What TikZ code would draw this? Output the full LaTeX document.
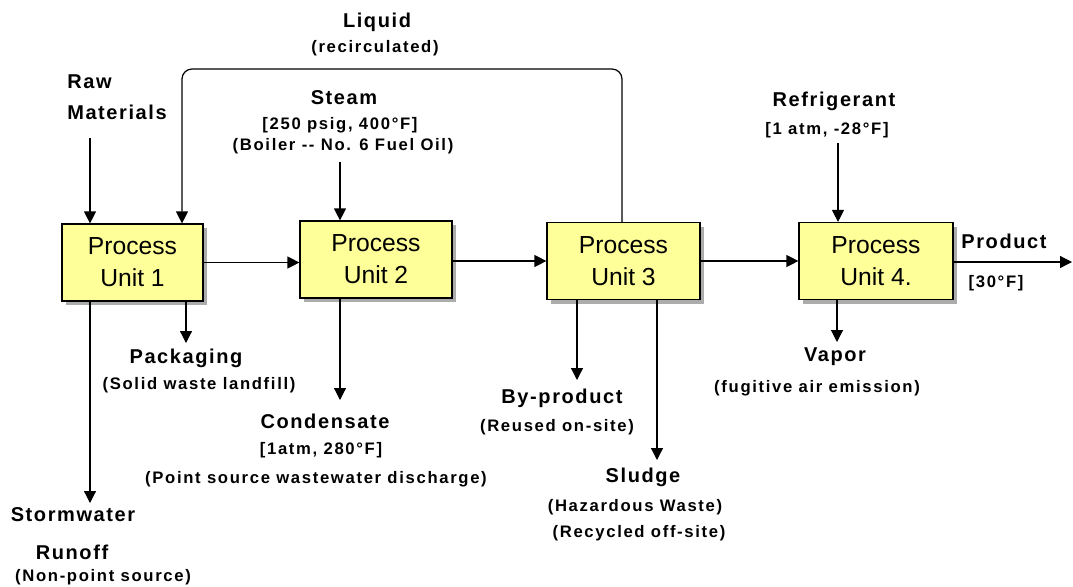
\documentclass[tikz,border=0pt]{standalone}
\usepackage{fontspec}
\setmainfont{Liberation Sans}
\newfontfamily\ttlfont{Liberation Sans}[LetterSpace=8]
\newfontfamily\subfont{Liberation Sans}[LetterSpace=10]
\usetikzlibrary{arrows.meta,shadows}

\begin{document}
\begin{tikzpicture}[x=0.75pt,y=0.75pt,yscale=-1,xscale=1,
  unitbox/.style={draw=black,line width=0.9pt,fill={rgb,255:red,255;green,255;blue,153},minimum height=57.75pt,inner sep=0pt,align=center,font=\fontsize{18.5}{24}\selectfont,drop shadow={shadow xshift=3pt,shadow yshift=-3pt,fill=gray!65,opacity=1}},
  ttl/.style={inner sep=0pt,font=\ttlfont\bfseries\fontsize{15}{17}\selectfont},
  sub/.style={inner sep=0pt,font=\subfont\bfseries\fontsize{12.5}{14}\selectfont},
  flow/.style={line width=0.9pt,-{Triangle[length=9pt,width=9pt]}}
]
\useasboundingbox (0,0) rectangle (1073,586);

%Process units
\node[unitbox,minimum width=105.75pt] (pu1) at (132.5,262.5) {Process\\Unit 1};
\node[unitbox,minimum width=114pt] (pu2) at (376,259.5) {Process\\Unit 2};
\node[unitbox,minimum width=114.75pt] (pu3) at (623.5,261) {Process\\Unit 3};
\node[unitbox,minimum width=115.5pt] (pu4) at (876,261) {Process\\Unit 4.};

% Text Node
\node[ttl,anchor=west] (raw) at (67,82) {Raw};
\node[ttl,anchor=west] (mat) at (67,112) {Materials};
% Text Node
\node[ttl] (liq) at (377,22) {Liquid};
\node[sub] (liqsub) at (375,48) {(recirculated)};
% Text Node
\node[ttl] (steam) at (344,98) {Steam};
\node[sub] (steamA) at (340,125) {[250 psig, 400°F]};
\node[sub] (steamB) at (343,146) {(Boiler {-}{-} No. 6 Fuel Oil)};
% Text Node
\node[ttl] (refr) at (834,101) {Refrigerant};
\node[sub] (refrsub) at (827,130) {[1 atm, -28°F]};
% Text Node
\node[ttl] (prod) at (1004,241) {Product};
\node[sub] (prodsub) at (996,283) {[30°F]};
% Text Node
\node[ttl] (pack) at (186,358) {Packaging};
\node[sub] (packsub) at (199,385) {(Solid waste landfill)};
% Text Node
\node[ttl] (cond) at (325,421) {Condensate};
\node[sub] (condA) at (321,450) {[1atm, 280°F]};
\node[sub] (condB) at (316,479) {(Point source wastewater discharge)};
% Text Node
\node[ttl] (byp) at (562,398) {By-product};
\node[sub] (bypsub) at (557,427) {(Reused on-site)};
% Text Node
\node[ttl] (sludge) at (643,477) {Sludge};
\node[sub] (sludgeA) at (635,507) {(Hazardous Waste)};
\node[sub] (sludgeB) at (639,533) {(Recycled off-site)};
% Text Node
\node[ttl] (vapor) at (835,357) {Vapor};
\node[sub] (vaporsub) at (817,388) {(fugitive air emission)};
% Text Node
\node[ttl] (storm) at (73,515) {Stormwater};
\node[ttl] (runoff) at (72,552) {Runoff};
\node[sub] (stormsub) at (103,577) {(Non-point source)};

%Free ends
\coordinate (rawend) at (90,138);
\coordinate (steamend) at (340,162);
\coordinate (refrend) at (838,143);
\coordinate (liqR) at (622,69);
\coordinate (liqL) at (182,69);
\coordinate (prodend) at (1072,262);
\coordinate (stormtip) at (90,503);
\coordinate (packtip) at (186,343);
\coordinate (condtip) at (340,400);
\coordinate (byptip) at (577,380);
\coordinate (sludgetip) at (657,460);
\coordinate (vaportip) at (837,342);

%Inputs
\draw[flow] (rawend) -- (rawend |- pu1.north);
\draw[flow] (steamend) -- (steamend |- pu2.north);
\draw[flow] (refrend) -- (refrend |- pu4.north);
\draw[flow,rounded corners=7.5pt] (liqR |- pu3.north) -- (liqR) -- (liqL) -- (liqL |- pu1.north);

%Main line
\draw[flow] (pu1.east) -- (pu1.east -| pu2.west);
\draw[flow] (pu2.east |- pu3.west) -- (pu3.west);
\draw[flow] (pu3.east) -- (pu3.east -| pu4.west);
\draw[flow] (pu4.east |- prodend) -- (prodend);

%Outputs
\draw[flow] (stormtip |- pu1.south) -- (stormtip);
\draw[flow] (packtip |- pu1.south) -- (packtip);
\draw[flow] (condtip |- pu2.south) -- (condtip);
\draw[flow] (byptip |- pu3.south) -- (byptip);
\draw[flow] (sludgetip |- pu3.south) -- (sludgetip);
\draw[flow] (vaportip |- pu4.south) -- (vaportip);

\end{tikzpicture}
\end{document}
